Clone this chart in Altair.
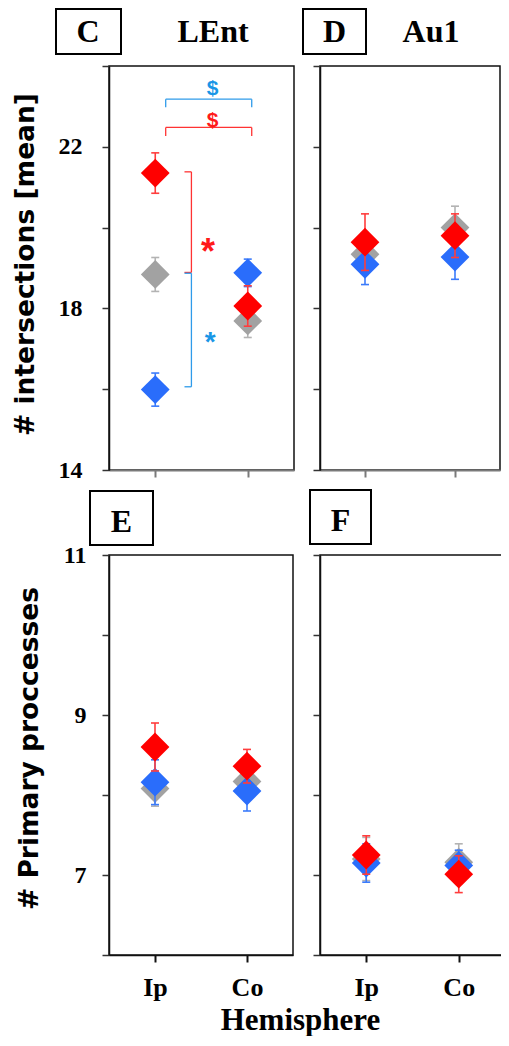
import altair as alt
import pandas as pd

# ---------------- data ----------------
hemispheres = ["Ip", "Co"]
groups = ["grey", "blue", "red"]              # drawing order
marker_colors = ["#a2a2a2", "#2a6dfb", "#ff0000"]
errbar_colors = ["#b3b3b3", "#3b7bfb", "#ff3d3d"]

panel_letters = ["C", "D", "E", "F"]
region_names = ["LEnt", "Au1"]
y_titles = ["# intersections [mean]", "# Primary proccesses"]
x_title = "Hemisphere"

lent_int_mean = {"grey": [18.84, 17.69], "blue": [15.99, 18.88], "red": [21.35, 18.06]}
lent_int_sem = {"grey": [0.42, 0.41], "blue": [0.41, 0.34], "red": [0.50, 0.50]}
au1_int_mean = {"grey": [19.34, 20.00], "blue": [19.09, 19.27], "red": [19.64, 19.80]}
au1_int_sem = {"grey": [0.45, 0.53], "blue": [0.50, 0.55], "red": [0.70, 0.54]}
lent_pp_mean = {"grey": [8.08, 8.17], "blue": [8.16, 8.05], "red": [8.60, 8.36]}
lent_pp_sem = {"grey": [0.22, 0.20], "blue": [0.28, 0.25], "red": [0.30, 0.21]}
au1_pp_mean = {"grey": [7.20, 7.16], "blue": [7.15, 7.12], "red": [7.25, 7.01]}
au1_pp_sem = {"grey": [0.27, 0.23], "blue": [0.24, 0.19], "red": [0.24, 0.23]}

top_ticks = [14, 16, 18, 20, 22, 24]
top_labeled = [14, 18, 22]
bottom_ticks = [6, 7, 8, 9, 10, 11]
bottom_labeled = [7, 9, 11]

bracket_x = [1.113, 1.113, 2.043, 1.113, 1.113, 2.043, 1.391, 1.316, 1.316, 1.391, 1.316, 1.316]
bracket_x2 = [2.043, 1.113, 2.043, 2.043, 1.113, 2.043, 1.391, 1.391, 1.391, 1.391, 1.391, 1.391]
bracket_y = [23.18, 23.18, 23.18, 22.48, 22.48, 22.48, 21.38, 21.38, 18.89, 18.87, 18.87, 16.06]
bracket_y2 = [23.18, 22.98, 22.98, 22.48, 22.27, 22.27, 18.89, 21.38, 18.89, 16.06, 18.87, 16.06]
bracket_col = ["b", "b", "b", "r", "r", "r", "r", "r", "r", "b", "b", "b"]
sig_text = ["$", "$", "*", "*"]
sig_x = [1.62, 1.62, 1.57, 1.594]
sig_y = [23.29, 22.49, 19.09, 16.95]
sig_col = ["b", "r", "r", "b"]

SERIF = "Liberation Serif"
SANS = "DejaVu Sans"


def make_df(mean, sem):
    rows = []
    for g in groups:
        for i, h in enumerate(hemispheres):
            m, s = mean[g][i], sem[g][i]
            rows.append({"group": g, "pos": i + 1, "hemi": h,
                         "mean": m, "lo": m - s, "hi": m + s})
    return pd.DataFrame(rows)


hemi_expr = " : ".join(
    [f"datum.value == {i + 1} ? '{h}'" for i, h in enumerate(hemispheres)]) + " : ''"


def label_expr(vals):
    return " || ".join([f"datum.value == {v}" for v in vals]) + " ? datum.label : ''"


def panel(mean, sem, width, height, ydom, yticks, ylabeled,
          show_ylabels, ytitle, ytitle_x, ytitle_y, label_pad,
          bottom_row, letter, letter_box, letter_x, letter_base,
          region=None, region_x=None, hemi_title=False, annotate=False):
    df = make_df(mean, sem)
    xscale = alt.Scale(domain=[0.5, 2.5], nice=False, zero=False)
    yscale = alt.Scale(domain=ydom, nice=False, zero=False)

    if bottom_row:
        xkw = dict(labelExpr=hemi_expr, labelFont=SERIF, labelFontWeight="bold",
                   labelFontSize=26, labelColor="black", labelPadding=12,
                   domainColor="#111111", tickColor="#111111", domainWidth=1.5,
                   tickWidth=2)
        if hemi_title:
            xkw.update(title=x_title, titleFont=SERIF, titleFontWeight="bold",
                       titleFontSize=31, titleColor="black", titleX=191, titleY=74,
                       titleAlign="center", titleBaseline="alphabetic", titleAngle=0)
        else:
            xkw.update(title=None)
    else:
        xkw = dict(labels=False, title=None, domainColor="#7a7a7a",
                   tickColor="#7a7a7a", domainWidth=2, tickWidth=2)
    xaxis = alt.Axis(values=[1, 2], tickSize=7, grid=False, labelFlush=False, **xkw)

    if show_ylabels:
        ykw = dict(labelExpr=label_expr(ylabeled),
                   labelFont=SERIF, labelFontWeight="bold", labelFontSize=24,
                   labelColor="black", labelPadding=label_pad,
                   title=ytitle, titleFont=SANS, titleFontWeight="bold",
                   titleFontSize=26.5, titleColor="black", titleX=ytitle_x,
                   titleY=ytitle_y, titleAngle=270, titleAlign="center",
                   titleBaseline="middle")
    else:
        ykw = dict(labels=False, title=None)
    yaxis = alt.Axis(values=yticks, tickSize=7, grid=False, domainColor="#111111",
                     tickColor="#333333", tickWidth=1.5, domainWidth=1.5,
                     labelFlush=False, **ykw)

    def X(f):
        return alt.X(f, type="quantitative", scale=xscale, axis=xaxis)

    def Y(f):
        return alt.Y(f, type="quantitative", scale=yscale, axis=yaxis)

    layers = []
    if annotate:
        bdf = pd.DataFrame({"x": bracket_x, "x2": bracket_x2, "y": bracket_y,
                            "y2": bracket_y2, "c": bracket_col})
        layers.append(alt.Chart(bdf).mark_rule(strokeWidth=1.3).encode(
            x=X("x"), x2="x2:Q", y=Y("y"), y2="y2:Q",
            color=alt.Color("c:N", scale=alt.Scale(domain=["b", "r"],
                                                   range=["#2f9bea", "#ff3333"]),
                            legend=None)))
        for t, sx, sy, c in zip(sig_text, sig_x, sig_y, sig_col):
            is_star = t == "*"
            size = (36 if c == "r" else 28) if is_star else 21
            layers.append(alt.Chart(pd.DataFrame({"t": [t], "x": [sx], "y": [sy]})).mark_text(
                font="Liberation Sans", fontWeight="bold", fontSize=size,
                align="center", baseline="alphabetic",
                color="#ff1a1a" if c == "r" else "#1996e6").encode(
                x=X("x"), y=Y("y"), text="t:N"))

    for g, mc, ec in zip(groups, marker_colors, errbar_colors):
        base = alt.Chart(df[df["group"] == g])
        layers.append(base.mark_rule(color=ec, strokeWidth=1.6).encode(
            x=X("pos"), y=Y("lo"), y2="hi:Q"))
        layers.append(base.mark_tick(color=ec, orient="horizontal", size=8,
                                     thickness=1.6, opacity=1).encode(x=X("pos"), y=Y("lo")))
        layers.append(base.mark_tick(color=ec, orient="horizontal", size=8,
                                     thickness=1.6, opacity=1).encode(x=X("pos"), y=Y("hi")))
        layers.append(base.mark_point(shape="diamond", filled=True, size=830,
                                      opacity=1, color=mc).encode(x=X("pos"), y=Y("mean")))

    bx1, bx2, by1, by2 = letter_box
    one = pd.DataFrame({"t": [letter]})
    layers.append(alt.Chart(one).mark_rect(fill="white", stroke="black", strokeWidth=2).encode(
        x=alt.value(bx1), x2=alt.value(bx2), y=alt.value(by1), y2=alt.value(by2)))
    layers.append(alt.Chart(one).mark_text(font=SERIF, fontWeight="bold", fontSize=32,
                                           align="center", baseline="alphabetic",
                                           color="black").encode(
        x=alt.value(letter_x), y=alt.value(letter_base), text="t:N"))
    if region is not None:
        layers.append(alt.Chart(pd.DataFrame({"t": [region]})).mark_text(
            font=SERIF, fontWeight="bold", fontSize=32, align="center",
            baseline="alphabetic", color="black").encode(
            x=alt.value(region_x), y=alt.value(letter_base), text="t:N"))

    return alt.layer(*layers).properties(width=width, height=height)


pC = panel(lent_int_mean, lent_int_sem, 185, 404, [14, 24], top_ticks, top_labeled,
           True, y_titles[0], -84, 198, 20, False, panel_letters[0],
           (-53, 12, -57, -12), -21, -24, region=region_names[0], region_x=104,
           annotate=True)

pD = panel(au1_int_mean, au1_int_sem, 180, 404, [14, 24], top_ticks, top_labeled,
           False, None, 0, 0, 0, False, panel_letters[1],
           (-17, 46, -57, -12), 14.5, -24, region=region_names[1], region_x=111)

pE = panel(lent_pp_mean, lent_pp_sem, 184, 400, [6, 11], bottom_ticks, bottom_labeled,
           True, y_titles[1], -80, 193, 16, True, panel_letters[2],
           (-19, 44, -64, -10), 12.5, -23, hemi_title=True)

pF = panel(au1_pp_mean, au1_pp_sem, 185, 400, [6, 11], bottom_ticks, bottom_labeled,
           False, None, 0, 0, 0, True, panel_letters[3],
           (-10, 51, -65, -11), 20.5, -24)


def spacer(w):
    return alt.Chart(pd.DataFrame({"s": [0]})).mark_point(opacity=0).encode(
        x=alt.value(0), y=alt.value(0)).properties(
        width=w, height=1, view=alt.ViewBackground(strokeOpacity=0))


chart = alt.concat(
    spacer(5), pC, pD, spacer(1), pE, pF,
    columns=3,
    spacing=alt.RowColnumber(row=85, column=26),
    align=alt.RowColLayoutAlign(row="each", column="none"),
    bounds="flush",
).properties(
    autosize=alt.AutoSizeParams(type="none"),
    padding={"left": 70, "top": 58, "right": 423, "bottom": 970},
    background="white",
).configure_view(
    stroke="#111111", strokeWidth=1.5
).configure_axis(grid=False)

chart.save("out.html", embed_options={"renderer": "svg", "actions": False})
